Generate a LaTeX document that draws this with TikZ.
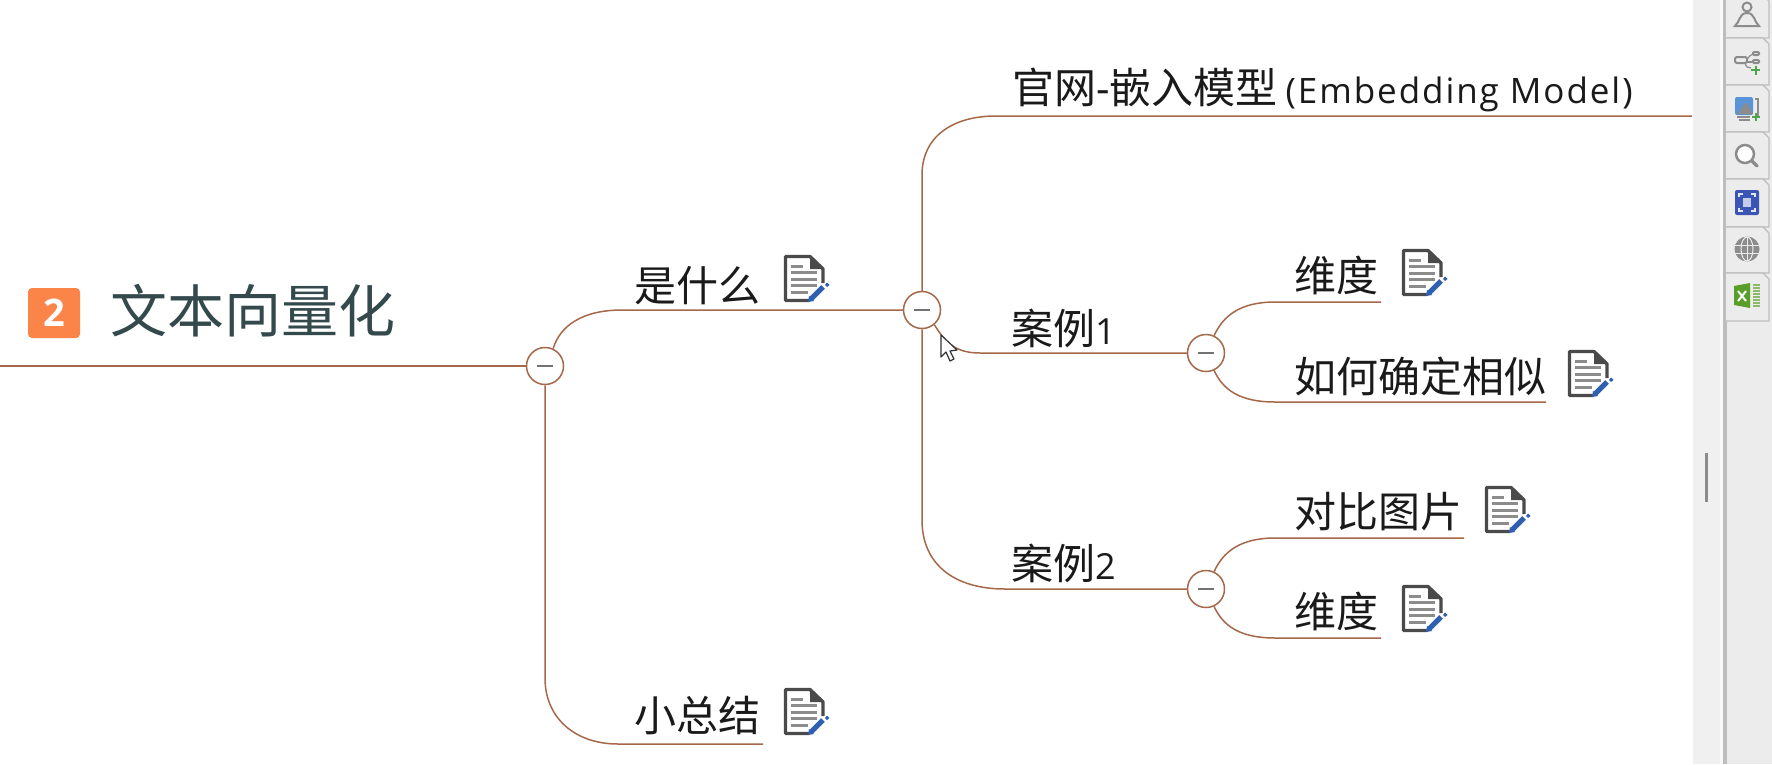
\documentclass[tikz,border=0pt]{standalone}
\usepackage{fontspec}
\setmainfont{Noto Sans CJK SC}
\newfontfamily\latinfont[LetterSpace=5.5]{Open Sans}
\newfontfamily\digitfont{Open Sans}
\newfontfamily\boldfont{Open Sans Bold}
\definecolor{brlink}{HTML}{A5694A}
\definecolor{txt}{HTML}{1A1A1A}
\definecolor{titlec}{HTML}{33494C}
\definecolor{sideg}{HTML}{F0F0F0}
\definecolor{tabg}{HTML}{ECECEC}
\definecolor{tabe}{HTML}{BDBDBD}
\definecolor{icong}{HTML}{8C8C8C}
\definecolor{pen}{HTML}{2E5FB0}
\definecolor{notedark}{HTML}{4A4A4A}
\definecolor{plusg}{HTML}{4EA44A}
\definecolor{badgec}{HTML}{FB8449}
\definecolor{picblue}{HTML}{5A94D8}
\definecolor{focusblue}{HTML}{3A55B5}
\definecolor{xlgreen}{HTML}{5A9E2A}
\tikzset{
  x=1pt,y=-1pt,
  link/.style={draw=brlink,line width=1.5pt},
  fold/.style={circle,draw=brlink,line width=1.5pt,fill=white,minimum size=37pt,inner sep=0pt,
    path picture={\draw[line width=2.2pt,draw=gray!90!black] ([xshift=-8pt]path picture bounding box.center) -- ([xshift=8pt]path picture bounding box.center);}},
  topic/.style={anchor=west,inner sep=0pt,text=txt,font=\fontsize{42}{42}\selectfont},
  sidetab/.style={draw=tabe,fill=tabg,line width=1.2pt},
  sideicon/.style={draw=icong,line width=2pt},
  noteicon/.pic={
    \draw[notedark,line width=3.4pt,fill=white,line join=round] (25,45.5) -- (1.5,45.5) -- (1.5,1.5) -- (26,1.5) -- (39,14) -- (39,28);
    \fill[notedark] (26,1.5) -- (39,14) -- (26,14) -- cycle;
    \foreach \yy/\xx in {11/19,17.5/33,24/33,30.5/33,37/24}{\draw[icong,line width=3pt] (7,\yy) -- (\xx,\yy);}
    \draw[pen,line width=5pt] (27,44) -- (39,32);
    \fill[pen] (24,47) -- (25,41) -- (30,46) -- cycle;
    \fill[pen] (41,30) -- (43,27.5) -- (45.5,30) -- (43,32) -- cycle;
  }
}
\begin{document}
\begin{tikzpicture}
\useasboundingbox (0,0) rectangle (1772,764);
\fill[white] (0,0) rectangle (1772,764);
% side panel
\fill[sideg] (1693,0) rectangle (1772,764);
\fill[tabg] (1727,0) rectangle (1772,764);
\fill[white!60!sideg] (1720,0) rectangle (1723,764);
\fill[tabe] (1723,0) rectangle (1727,764);
\fill[icong] (1704.5,453) rectangle (1708,502);
% tabs
\foreach \ya/\yb in {-5/38,38/85,85/132,132/179,179/227,227/273,273/321}{
  \draw[sidetab] (1726,\ya) -- (1763,\ya) -- (1769,\ya+6) -- (1769,\yb) -- (1726,\yb);
}
% person
\draw[sideicon] (1747,7) circle (4.5);
\draw[sideicon] (1735,26) .. controls (1740,22) and (1739,13) .. (1747,13) .. controls (1755,13) and (1754,22) .. (1759,26) -- cycle;
% share
\draw[sideicon,rounded corners=2pt] (1735,57) rectangle (1747,63);
\draw[sideicon,rounded corners=1pt] (1753,52) rectangle (1759,55);
\draw[sideicon,rounded corners=1pt] (1753,60) rectangle (1759,63);
\draw[sideicon,line width=1.2pt] (1747,59) .. controls (1750,57) and (1750,54) .. (1753,54);
\draw[sideicon,line width=1.2pt] (1747,62) -- (1753,62);
\draw[sideicon,line width=1.2pt] (1745,63) .. controls (1746,67) and (1748,68) .. (1751,68);
\draw[plusg,line width=2pt] (1751,70) -- (1760,70) (1755.5,65.5) -- (1755.5,74.5);
% picture
\draw[icong,line width=1.5pt] (1755,99) -- (1758,99) -- (1758,116);
\fill[picblue,rounded corners=2pt] (1735,97) rectangle (1753,115);
\fill[icong] (1737,114) -- (1746,102) -- (1753,114) -- cycle;
\draw[icong,line width=1.5pt] (1737,117) -- (1750,117) (1739,120) -- (1750,120);
\draw[plusg,line width=2pt] (1752,117) -- (1760,117) (1756,113) -- (1756,121);
% search
\draw[icong,line width=2.5pt,fill=white] (1745,154) circle (9);
\draw[icong,line width=3.5pt,line cap=round] (1752,161) -- (1757,166);
% focus
\fill[focusblue,rounded corners=2pt] (1735,190) rectangle (1759,215);
\draw[white!85!focusblue,line width=1.5pt] (1739,197) -- (1739,194) -- (1743,194) (1751,194) -- (1755,194) -- (1755,197) (1755,208) -- (1755,211) -- (1751,211) (1743,211) -- (1739,211) -- (1739,208);
\fill[white!70!focusblue] (1743,198) rectangle (1751,207);
% globe
\fill[icong] (1747,249) circle (12.5);
\draw[tabg,line width=1pt] (1735,245) -- (1759,245) (1735,253) -- (1759,253) (1747,237) -- (1747,261);
\draw[tabg,line width=1pt] (1747,249) ellipse (6 and 12);
% excel
\fill[xlgreen] (1734,286) -- (1750,283) -- (1750,308) -- (1734,305) -- cycle;
\draw[white,line width=2pt] (1738,291) -- (1746,301) (1746,291) -- (1738,301);
\draw[xlgreen!70!white,line width=5pt,dash pattern=on 1.5pt off 1.5pt] (1755,284) -- (1755,307);
\draw[xlgreen!70!white,line width=2pt,dash pattern=on 1.5pt off 1.5pt] (1759,284) -- (1759,307);

% badge and title
\node[fill=badgec,rounded corners=4pt,minimum width=52pt,minimum height=50pt,inner sep=0pt,text=white,font=\boldfont\fontsize{38}{38}\selectfont] (badge) at (54,313) {2};
\node[topic,text=titlec,font=\fontsize{57}{57}\selectfont] (title) at (110,311) {文本向量化};

% fold circles
\node[fold] (c1) at (545,366) {};
\node[fold] (c2) at (922,310) {};
\node[fold] (c3) at (1206,353) {};
\node[fold] (c4) at (1206,589) {};

% topics
\node[topic] (shi) at (634,286) {是什么};
\node[topic] (xiao) at (634,716) {小总结};
\node[topic] (guan) at (1012,90) {官网{\digitfont -}嵌入模型\hspace{8pt}{\latinfont\fontsize{35}{35}\selectfont (Embedding Model)}};
\node[topic] (an1) at (1011,328) {案例{\digitfont\fontsize{36}{36}\selectfont 1}};
\node[topic] (an2) at (1011,563) {案例{\digitfont\fontsize{36}{36}\selectfont 2}};
\node[topic] (wei1) at (1294,275) {维度};
\node[topic] (ru) at (1294,376) {如何确定相似};
\node[topic] (dui) at (1294,512) {对比图片};
\node[topic] (wei2) at (1294,611) {维度};

% free ends
\coordinate (rootstart) at (0,366);
\coordinate (xiaoe) at (763,744);
\coordinate (guane) at (1692,116);
\coordinate (wei1e) at (1381,302);
\coordinate (rue) at (1546,402);
\coordinate (duie) at (1464,538);
\coordinate (wei2e) at (1381,638);

% connectors
\draw[link] (rootstart) -- (c1.west);
\draw[link] (c1.65) .. controls (560,326) and (582,310) .. (622,310) -- (c2.west);
\draw[link] (c1.south) -- (545,678) .. controls (545,718) and (575,744) .. (618,744) -- (xiaoe);
\draw[link] (c2.north) -- (922,175) .. controls (922,137) and (952,116) .. (996,116) -- (guane);
\draw[link] (c2.south) -- (922,520) .. controls (922,565) and (955,589) .. (1005,589) -- (c4.west);
\draw[link] (c2.-50) .. controls (945,342) and (955,353) .. (980,353) -- (c3.west);
\draw[link] (c3.65) .. controls (1223,316) and (1240,302) .. (1275,302) -- (wei1e);
\draw[link] (c3.-65) .. controls (1223,390) and (1240,402) .. (1275,402) -- (rue);
\draw[link] (c4.65) .. controls (1223,552) and (1240,538) .. (1275,538) -- (duie);
\draw[link] (c4.-65) .. controls (1223,626) and (1240,638) .. (1275,638) -- (wei2e);

% note icons
\pic at (784,255) {noteicon};
\pic at (784,688) {noteicon};
\pic at (1402,249) {noteicon};
\pic at (1568,350) {noteicon};
\pic at (1485,486) {noteicon};
\pic at (1402,585) {noteicon};

% mouse pointer
\draw[black!80,fill=white,line width=1.2pt,line join=round] (941,335) -- (941,357) -- (946,352) -- (950,361) -- (954,359) -- (950,351) -- (957,350) -- cycle;
\end{tikzpicture}
\end{document}
